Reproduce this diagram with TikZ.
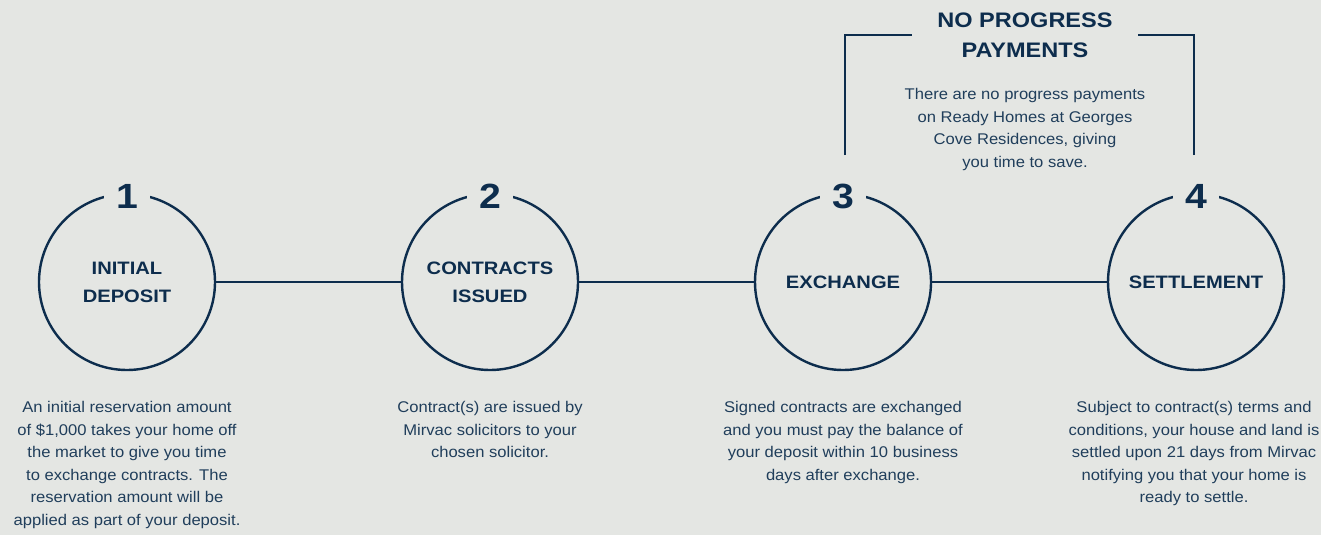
\documentclass[tikz,border=0pt]{standalone}
\usepackage{fontspec}
\setmainfont[FakeStretch=1.07]{Liberation Sans}
\newfontfamily\headfont[FakeStretch=1.12]{Liberation Sans}
\definecolor{navy}{HTML}{0D2D4D}
\definecolor{paper}{HTML}{E4E6E3}
\tikzset{
  stage/.style={draw,circle,minimum size=176pt,inner sep=0pt,align=center,
    font=\headfont\bfseries\fontsize{18}{28}\selectfont},
  stagenum/.style={fill=paper,minimum width=46pt,inner sep=0pt,
    font=\headfont\bfseries\fontsize{35}{35}\selectfont},
  body/.style={anchor=north,align=center,inner sep=0pt,text=navy!92,
    font=\fontsize{15.5}{22.6}\selectfont}
}
\begin{document}
\begin{tikzpicture}[x=1pt,y=1pt,line width=2.4pt,color=navy]
			\fill[paper] (0,0) rectangle (1321,-535);
			\useasboundingbox (0,0) rectangle (1321,-535);
			% the four stages
			\foreach \n/\x/\t in {1/127/{INITIAL\\DEPOSIT},2/490/{CONTRACTS\\ISSUED},3/843/EXCHANGE,4/1196/SETTLEMENT}
			{\node[stage] (s\n) at (\x,-282) {\t};
			\node[stagenum] (n\n) at (\x,-196) {\n};}
			\foreach \a/\b in {1/2,2/3,3/4}
			\draw (s\a) -- (s\b);
			% texts under the circles
			\node[body] (t1) at (127,-400) {An initial reservation amount\\of \$1,000 takes your home off\\the market to give you time\\to exchange contracts. The\\reservation amount will be\\applied as part of your deposit.};
			\node[body] (t2) at (490,-400) {Contract(s) are issued by\\Mirvac solicitors to your\\chosen solicitor.};
			\node[body] (t3) at (843,-400) {Signed contracts are exchanged\\and you must pay the balance of\\your deposit within 10 business\\days after exchange.};
			\node[body] (t4) at (1194,-400) {Subject to contract(s) terms and\\conditions, your house and land is\\settled upon 21 days from Mirvac\\notifying you that your home is\\ready to settle.};
			% bracket over 3 and 4
			\node[align=center,inner xsep=24pt,inner ysep=0pt,font=\headfont\bfseries\fontsize{21}{30}\selectfont] (np) at (1025,-35) {NO PROGRESS\\PAYMENTS};
			\node[body] (npt) at (1025,-87) {There are no progress payments\\on Ready Homes at Georges\\Cove Residences, giving\\you time to save.};
			\coordinate (b3) at (845,-155);
			\coordinate (b4) at (1194,-155);
			\draw (b3) |- (np.west);
			\draw (b4) |- (np.east);
\end{tikzpicture}
\end{document}
